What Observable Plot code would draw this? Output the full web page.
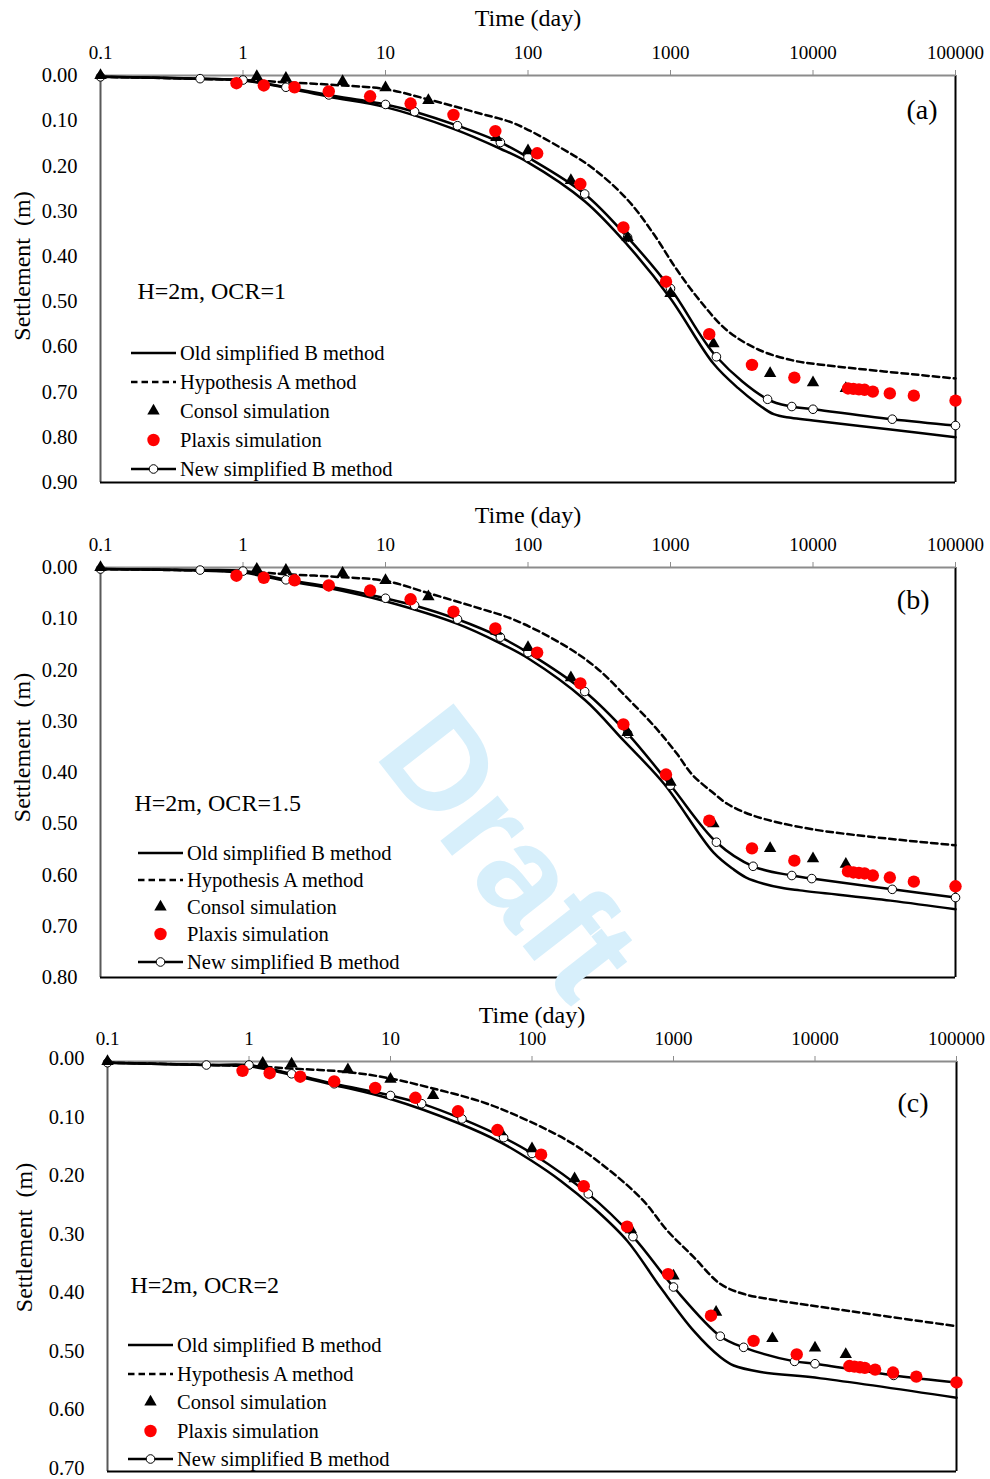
<!DOCTYPE html>
<html>
<head>
<meta charset="utf-8">
<script src="https://cdn.jsdelivr.net/npm/d3@7"></script>
<script src="https://cdn.jsdelivr.net/npm/@observablehq/plot@0.6"></script>
<style>
  body { margin: 0; background: #fff; }
  #wrap { position: relative; width: 990px; height: 1479px; overflow: hidden; background: #fff; }
  .panel { position: absolute; left: 0; }
  #overlay { position: absolute; left: 0; top: 0; pointer-events: none; }
  #draft { position: absolute; left: 510px; top: 852px; transform: translate(-50%, -50%) rotate(52deg);
           font-family: "Liberation Sans", Arial, sans-serif; font-weight: bold; font-size: 138px;
           color: #d7effb; pointer-events: none; white-space: nowrap; line-height: 1; }
</style>
</head>
<body>
<div id="wrap"></div>
<script>
// ---------- shared labels ----------
const timeTicks = [0.1, 1, 10, 100, 1000, 10000, 100000];
const seriesNames = ["Old simplified B method", "Hypothesis A method", "Consol simulation", "Plaxis simulation", "New simplified B method"];
const yTicksA = [0, 0.1, 0.2, 0.3, 0.4, 0.5, 0.6, 0.7, 0.8, 0.9];
const yTicksB = [0, 0.1, 0.2, 0.3, 0.4, 0.5, 0.6, 0.7, 0.8];
const yTicksC = [0, 0.1, 0.2, 0.3, 0.4, 0.5, 0.6, 0.7];
const notes = ["H=2m, OCR=1", "H=2m, OCR=1.5", "H=2m, OCR=2"];
const tags = ["(a)", "(b)", "(c)"];
const xTitle = "Time (day)";
const yTitle = "Settlement\u00a0 (m)";

// ---------- panel (a): [time (day), settlement (m)] ----------
const oldA = [[0.1,0.003],[0.5,0.007],[1,0.011],[2,0.027],[4,0.047],[10,0.070],[30,0.118],[64,0.162],[100,0.192],[250,0.278],[500,0.375],[1000,0.493],[2000,0.637],[3000,0.692],[4000,0.724],[5300,0.749],[7000,0.757],[10000,0.763],[35000,0.783],[100000,0.800]];
const hypA = [[0.1,0.003],[1,0.010],[2,0.015],[5,0.022],[10,0.030],[20,0.053],[46,0.084],[80,0.106],[170,0.160],[290,0.207],[500,0.275],[760,0.350],[1100,0.428],[1600,0.497],[2500,0.564],[4200,0.607],[7200,0.630],[11000,0.639],[100000,0.670]];
const consolA = [[0.1,0],[1.25,0.002],[2,0.006],[5,0.013],[10,0.027],[20,0.055],[60,0.137],[100,0.166],[200,0.232],[500,0.358],[1000,0.482],[2000,0.593],[5000,0.659],[10000,0.679],[17000,0.692]];
const plaxisA = [[0.9,0.017],[1.4,0.022],[2.3,0.026],[4,0.035],[7.8,0.046],[15,0.062],[30,0.087],[59,0.123],[116,0.172],[233,0.240],[467,0.336],[930,0.456],[1870,0.572],[3730,0.640],[7400,0.668],[17600,0.692],[19200,0.693],[21000,0.694],[23000,0.695],[26300,0.699],[34600,0.703],[51000,0.708],[100000,0.719]];
const newA = [[0.1,0.003],[0.5,0.007],[1,0.010],[2,0.026],[4,0.043],[10,0.064],[16,0.080],[32,0.111],[64,0.148],[100,0.181],[250,0.262],[500,0.358],[1000,0.471],[2100,0.622],[4800,0.716],[7100,0.732],[10000,0.738],[36000,0.760],[100000,0.774]];

// ---------- panel (b) ----------
const oldB = [[0.1,0.003],[0.5,0.006],[1,0.010],[2,0.026],[4,0.040],[10,0.066],[32,0.110],[64,0.148],[100,0.177],[250,0.258],[470,0.338],[900,0.422],[2000,0.556],[2800,0.590],[3400,0.605],[4500,0.617],[6000,0.625],[8100,0.630],[35000,0.650],[100000,0.667]];
const hypB = [[0.1,0.003],[1,0.008],[2,0.013],[5,0.019],[10,0.026],[20,0.050],[46,0.080],[80,0.102],[175,0.150],[300,0.195],[520,0.260],[800,0.315],[1100,0.362],[1430,0.405],[2000,0.440],[2500,0.461],[3800,0.484],[10000,0.511],[100000,0.542]];
const consolB = [[0.1,0],[1.25,0.003],[2,0.005],[5,0.011],[10,0.025],[20,0.057],[60,0.124],[100,0.156],[200,0.215],[500,0.322],[1000,0.419],[2000,0.500],[5000,0.548],[10000,0.568],[17000,0.579]];
const plaxisB = [[0.9,0.016],[1.4,0.020],[2.3,0.025],[4,0.035],[7.8,0.045],[15,0.062],[30,0.086],[59,0.119],[116,0.166],[233,0.226],[467,0.306],[930,0.404],[1870,0.494],[3730,0.548],[7400,0.572],[17600,0.593],[19200,0.595],[21000,0.596],[23000,0.597],[26300,0.601],[34600,0.605],[51000,0.613],[100000,0.622]];
const newB = [[0.1,0.003],[0.5,0.005],[1,0.007],[2,0.024],[4,0.037],[10,0.060],[16,0.074],[32,0.101],[64,0.136],[100,0.166],[250,0.242],[500,0.324],[1000,0.425],[2100,0.536],[3800,0.583],[7100,0.601],[9800,0.607],[36000,0.628],[100000,0.644]];

// ---------- panel (c) ----------
const oldC = [[0.1,0.002],[0.5,0.006],[1,0.008],[2,0.023],[4,0.040],[10,0.064],[30,0.105],[60,0.138],[100,0.170],[160,0.204],[270,0.249],[470,0.306],[810,0.386],[1390,0.460],[2150,0.505],[2660,0.519],[4130,0.530],[11000,0.541],[100000,0.574]];
const hypC = [[0.1,0.002],[1,0.008],[2,0.012],[5,0.018],[10,0.029],[20,0.046],[43,0.068],[74,0.090],[187,0.138],[358,0.187],[614,0.238],[906,0.289],[1390,0.334],[2150,0.380],[3150,0.397],[5420,0.408],[11000,0.419],[100000,0.452]];
const consolC = [[0.1,0],[1.25,0.003],[2,0.004],[5,0.014],[10,0.030],[20,0.058],[60,0.120],[100,0.149],[200,0.200],[500,0.287],[1000,0.366],[2000,0.428],[5000,0.473],[10000,0.489],[16500,0.500]];
const plaxisC = [[0.9,0.016],[1.4,0.020],[2.3,0.026],[4,0.034],[7.8,0.045],[15,0.062],[30,0.085],[57,0.117],[116,0.159],[232,0.213],[470,0.282],[915,0.363],[1840,0.434],[3680,0.477],[7430,0.500],[17500,0.520],[19000,0.521],[20800,0.522],[22500,0.523],[26600,0.526],[35600,0.531],[52000,0.538],[100000,0.548]];
const newC = [[0.1,0.002],[0.5,0.006],[1,0.006],[2,0.021],[4,0.038],[10,0.058],[16.6,0.072],[32,0.098],[63,0.130],[100,0.157],[250,0.226],[517,0.299],[1000,0.385],[2140,0.469],[3130,0.488],[7170,0.512],[10000,0.516],[36000,0.536],[100000,0.548]];

// ---------- layout / styles ----------
const FONT = "'Liberation Serif', 'Times New Roman', serif";
const panels = [
  {top: 0,   height: 492, left: 100, right: 955, mt: 75, mb: 10, yMax: 0.9, yTicks: yTicksA, yTickDy: 0,
   old: oldA, hyp: hypA, consol: consolA, plaxis: plaxisA, neu: newA,
   titleDy: -57, yTitleDx: -78, yTitleDy: -13, noteDx: 37, noteDy: 216, tagDx: -18, tagDy: 35,
   legend: {x1: 131, x2: 176, tx: 180, rows: [353, 382, 411, 440, 469]}},
  {top: 492, height: 495, left: 100, right: 955, mt: 75, mb: 10, yMax: 0.8, yTicks: yTicksB, yTickDy: 0,
   old: oldB, hyp: hypB, consol: consolB, plaxis: plaxisB, neu: newB,
   titleDy: -52, yTitleDx: -78, yTitleDy: -25, noteDx: 34, noteDy: 236, tagDx: -26, tagDy: 33,
   legend: {x1: 138, x2: 183, tx: 187, rows: [853, 880, 907, 934, 962]}},
  {top: 987, height: 492, left: 107, right: 956, mt: 74, mb: 8, yMax: 0.7, yTicks: yTicksC, yTickDy: -3,
   old: oldC, hyp: hypC, consol: consolC, plaxis: plaxisC, neu: newC,
   titleDy: -46, yTitleDx: -83, yTitleDy: -29, noteDx: 23, noteDy: 224, tagDx: -28, tagDy: 42,
   legend: {x1: 128, x2: 173, tx: 177, rows: [1345, 1374, 1402, 1431, 1459]}}
];

const rows = arr => arr.map(([t, s]) => ({t, s}));
const wrap = document.getElementById("wrap");

panels.forEach((p, i) => {
  const chart = Plot.plot({
    width: 990, height: p.height,
    marginLeft: p.left, marginRight: 990 - p.right, marginTop: p.mt, marginBottom: p.mb,
    style: {background: "transparent", overflow: "visible", fontFamily: FONT, color: "#000"},
    x: {type: "log", domain: [0.1, 100000], axis: null},
    y: {domain: [0, p.yMax], reverse: true, axis: null},
    marks: [
      Plot.ruleX([0.1], {stroke: "#595959", strokeWidth: 2}),
      Plot.ruleX([100000], {stroke: "#000", strokeWidth: 2}),
      Plot.ruleY([p.yMax], {stroke: "#000", strokeWidth: 2}),
      Plot.ruleY([0], {stroke: "#8c8c8c", strokeWidth: 2}),
      Plot.axisX(timeTicks, {anchor: "top", tickSize: 6, tickPadding: 11, stroke: "#8c8c8c", fill: "#000",
        fontSize: 19, fontFamily: FONT, tickFormat: d => String(d), label: null}),
      Plot.axisY(p.yTicks, {anchor: "left", tickSize: 0, tickPadding: 23, fill: "#000", dy: p.yTickDy,
        fontSize: 20.5, fontFamily: FONT, tickFormat: d3.format(".2f"), label: null}),
      Plot.line(rows(p.old), {x: "t", y: "s", curve: "catmull-rom", stroke: "#000", strokeWidth: 2.5}),
      Plot.line(rows(p.hyp), {x: "t", y: "s", curve: "catmull-rom", stroke: "#000", strokeWidth: 2.5, strokeDasharray: "6.5,4"}),
      Plot.line(rows(p.neu), {x: "t", y: "s", curve: "catmull-rom", stroke: "#000", strokeWidth: 2.5}),
      Plot.dot(rows(p.neu), {x: "t", y: "s", r: 4.3, fill: "#fff", stroke: "#000", strokeWidth: 1}),
      Plot.dot(rows(p.consol), {x: "t", y: "s", symbol: "triangle", r: 4.6, fill: "#000", stroke: null}),
      Plot.dot(rows(p.plaxis), {x: "t", y: "s", r: 6.2, fill: "#ff0000", stroke: null}),
      Plot.text([xTitle], {text: d => d, frameAnchor: "top", dy: p.titleDy, fontSize: 24, fontFamily: FONT, fill: "#000", lineAnchor: "middle"}),
      Plot.text([yTitle], {text: d => d, frameAnchor: "left", dx: p.yTitleDx, dy: p.yTitleDy, rotate: -90, fontSize: 24, fontFamily: FONT, fill: "#000", lineAnchor: "middle", textAnchor: "middle"}),
      Plot.text([notes[i]], {text: d => d, frameAnchor: "top-left", dx: p.noteDx, dy: p.noteDy, fontSize: 24, fontFamily: FONT, fill: "#000", textAnchor: "start", lineAnchor: "middle"}),
      Plot.text([tags[i]], {text: d => d, frameAnchor: "top-right", dx: p.tagDx, dy: p.tagDy, fontSize: 28, fontFamily: FONT, fill: "#000", textAnchor: "end", lineAnchor: "middle"})
    ]
  });
  chart.classList.add("panel");
  chart.style.top = p.top + "px";
  chart.style.position = "absolute";
  wrap.appendChild(chart);
});

// ---------- legends (overlay) ----------
const overlay = d3.select(wrap).append("svg").attr("id", "overlay").attr("width", 990).attr("height", 1479);
const triPath = d3.symbol(d3.symbolTriangle, 4.6 * 4.6 * Math.PI)();
panels.forEach(p => {
  const L = p.legend;
  const g = overlay.append("g").attr("font-family", FONT).attr("font-size", 20.5).attr("fill", "#000");
  const mid = (L.x1 + L.x2) / 2;
  L.rows.forEach((y, k) => {
    g.append("text").attr("x", L.tx).attr("y", y).attr("dy", "0.32em").text(seriesNames[k]);
  });
  g.append("line").attr("x1", L.x1).attr("x2", L.x2).attr("y1", L.rows[0]).attr("y2", L.rows[0]).attr("stroke", "#000").attr("stroke-width", 2.5);
  g.append("line").attr("x1", L.x1).attr("x2", L.x2).attr("y1", L.rows[1]).attr("y2", L.rows[1]).attr("stroke", "#000").attr("stroke-width", 2.5).attr("stroke-dasharray", "6.5,4");
  g.append("path").attr("d", triPath).attr("transform", `translate(${mid},${L.rows[2]})`).attr("fill", "#000");
  g.append("circle").attr("cx", mid).attr("cy", L.rows[3]).attr("r", 6.2).attr("fill", "#ff0000");
  g.append("line").attr("x1", L.x1).attr("x2", L.x2).attr("y1", L.rows[4]).attr("y2", L.rows[4]).attr("stroke", "#000").attr("stroke-width", 2.5);
  g.append("circle").attr("cx", mid).attr("cy", L.rows[4]).attr("r", 4.3).attr("fill", "#fff").attr("stroke", "#000").attr("stroke-width", 1);
});

// ---------- watermark ----------
const draft = document.createElement("div");
draft.id = "draft";
draft.textContent = "Draft";
wrap.appendChild(draft);
</script>
</body>
</html>
